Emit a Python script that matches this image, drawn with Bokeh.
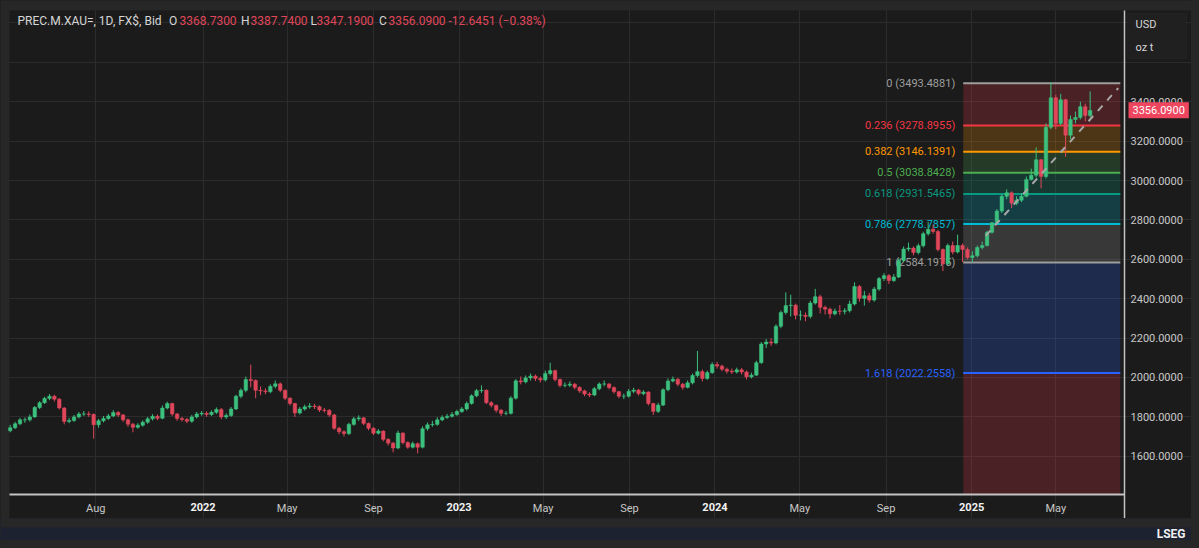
import pandas as pd
from bokeh.plotting import figure
from bokeh.models import (Range1d, FixedTicker, NumeralTickFormatter, Label,
                          LabelSet, ColumnDataSource, BoxAnnotation)
from bokeh.layouts import column
from bokeh.embed import file_html
from bokeh.resources import INLINE
from bokeh.core.properties import value

FONT = "Roboto"
BG = "#1b1b1b"
FRAME = "#272727"
GRID = "#2c2c2c"
UP = "#3cc07e"
DOWN = "#e0475b"

# ---------------- data (weekly sampling) ----------------
first_date = "2021-04-01"
first_open = 1730
closes = [
    1745, 1765, 1785, 1785, 1800, 1848, 1872, 1894, 1905, 1890,
    1845, 1777, 1782, 1800, 1815, 1815, 1812, 1760, 1780, 1792,
    1805, 1822, 1810, 1785, 1763, 1747, 1758, 1773, 1790, 1803,
    1793, 1845, 1868, 1815, 1792, 1787, 1778, 1800, 1815, 1818,
    1812, 1823, 1838, 1800, 1807, 1840, 1905, 1935, 1990, 1985,
    1935, 1932, 1928, 1955, 1968, 1935, 1895, 1868, 1820, 1840,
    1851, 1855, 1852, 1835, 1833, 1810, 1742, 1725, 1715, 1762,
    1790, 1795, 1767, 1742, 1717, 1728, 1686, 1667, 1642, 1718,
    1670, 1646, 1664, 1646, 1740, 1760, 1762, 1785, 1797, 1803,
    1812, 1827, 1840, 1868, 1907, 1933, 1935, 1872, 1859, 1834,
    1818, 1818, 1895, 1983, 1978, 1998, 2007, 1995, 1988, 2020,
    2035, 1990, 1960, 1961, 1966, 1950, 1932, 1916, 1911, 1943,
    1967, 1967, 1949, 1928, 1905, 1905, 1930, 1936, 1918, 1926,
    1868, 1828, 1860, 1938, 1982, 1991, 1966, 1950, 1973, 2010,
    2030, 1995, 2025, 2066, 2058, 2042, 2032, 2028, 2039, 2028,
    2003, 2012, 2075, 2170, 2180, 2175, 2260, 2330, 2365, 2367,
    2316, 2316, 2310, 2378, 2410, 2356, 2347, 2323, 2337, 2336,
    2339, 2373, 2462, 2402, 2415, 2393, 2449, 2502, 2517, 2492,
    2510, 2594, 2652, 2657, 2634, 2669, 2730, 2753, 2741, 2650,
    2577, 2670, 2637, 2670, 2650, 2609, 2618, 2660, 2670, 2737,
    2785, 2845, 2920, 2938, 2885, 2900, 2920, 3005, 3027, 3105,
    3020, 3270, 3420, 3290, 3410, 3230, 3310, 3320, 3375, 3330, 3356,
]
highs = [
    1760, 1775, 1795, 1797, 1812, 1855, 1880, 1902, 1916, 1912,
    1896, 1850, 1795, 1810, 1825, 1830, 1828, 1818, 1790, 1805,
    1815, 1834, 1830, 1815, 1792, 1770, 1768, 1782, 1800, 1814,
    1812, 1858, 1877, 1872, 1820, 1800, 1795, 1810, 1825, 1830,
    1828, 1833, 1848, 1845, 1818, 1850, 1912, 1945, 2005, 2065,
    1990, 1955, 1945, 1965, 1985, 1975, 1940, 1900, 1872, 1850,
    1862, 1870, 1866, 1858, 1845, 1840, 1815, 1750, 1732, 1770,
    1800, 1808, 1800, 1772, 1748, 1738, 1732, 1692, 1672, 1730,
    1722, 1676, 1675, 1670, 1752, 1772, 1780, 1798, 1808, 1815,
    1825, 1836, 1850, 1878, 1915, 1942, 1960, 1940, 1880, 1862,
    1840, 1830, 1905, 1992, 2005, 2010, 2020, 2015, 2005, 2035,
    2075, 2040, 1995, 1975, 1980, 1972, 1955, 1938, 1925, 1952,
    1975, 1985, 1972, 1955, 1932, 1918, 1942, 1948, 1942, 1935,
    1930, 1872, 1872, 1945, 1995, 2005, 1998, 1972, 1985, 2020,
    2135, 2040, 2035, 2078, 2080, 2065, 2050, 2045, 2050, 2048,
    2035, 2025, 2085, 2180, 2195, 2200, 2270, 2340, 2432, 2420,
    2375, 2340, 2330, 2390, 2450, 2420, 2365, 2355, 2350, 2368,
    2352, 2390, 2483, 2470, 2440, 2430, 2460, 2510, 2530, 2525,
    2525, 2605, 2665, 2685, 2665, 2680, 2740, 2790, 2775, 2750,
    2655, 2680, 2690, 2725, 2680, 2660, 2640, 2670, 2690, 2745,
    2790, 2855, 2930, 2955, 2945, 2920, 2935, 3020, 3060, 3168,
    3110, 3290, 3500, 3435, 3440, 3415, 3330, 3350, 3400, 3390, 3452,
]
lows = [
    1722, 1738, 1758, 1770, 1776, 1795, 1840, 1866, 1885, 1878,
    1838, 1762, 1768, 1775, 1792, 1805, 1800, 1690, 1745, 1772,
    1785, 1798, 1800, 1775, 1750, 1722, 1740, 1750, 1765, 1782,
    1783, 1788, 1838, 1805, 1780, 1776, 1768, 1770, 1792, 1806,
    1800, 1805, 1815, 1788, 1790, 1800, 1835, 1895, 1925, 1950,
    1895, 1910, 1915, 1920, 1945, 1925, 1885, 1858, 1800, 1812,
    1832, 1842, 1840, 1825, 1822, 1800, 1735, 1712, 1700, 1708,
    1755, 1780, 1758, 1732, 1708, 1710, 1676, 1655, 1620, 1636,
    1660, 1638, 1640, 1615, 1640, 1730, 1750, 1755, 1778, 1790,
    1796, 1805, 1820, 1832, 1862, 1900, 1922, 1865, 1848, 1822,
    1805, 1808, 1812, 1888, 1965, 1970, 1985, 1982, 1975, 1980,
    2010, 1980, 1950, 1950, 1952, 1940, 1922, 1905, 1900, 1905,
    1935, 1955, 1940, 1918, 1895, 1890, 1898, 1920, 1908, 1910,
    1858, 1810, 1820, 1855, 1930, 1975, 1955, 1938, 1945, 1965,
    2000, 1980, 1988, 2018, 2045, 2032, 2020, 2018, 2020, 2015,
    1990, 1995, 2008, 2070, 2150, 2160, 2168, 2250, 2320, 2310,
    2295, 2290, 2285, 2300, 2370, 2325, 2320, 2300, 2315, 2318,
    2320, 2330, 2365, 2385, 2365, 2380, 2385, 2440, 2490, 2475,
    2485, 2505, 2585, 2640, 2620, 2625, 2660, 2720, 2730, 2640,
    2540, 2570, 2625, 2630, 2585, 2600, 2584, 2610, 2650, 2665,
    2730, 2775, 2835, 2905, 2860, 2875, 2890, 2915, 3000, 3015,
    2960, 3010, 3260, 3260, 3280, 3120, 3210, 3290, 3310, 3300, 3320,
]

fib_ratios = ["0", "0.236", "0.382", "0.5", "0.618", "0.786", "1", "1.618", "2.618"]
fib_values = [3493.4881, 3278.8955, 3146.1391, 3038.8428, 2931.5465,
              2778.7857, 2584.1975, 2022.2558, 1112.9650]
fib_colors = ["#9e9e9e", "#f23645", "#ff9800", "#4caf50", "#089981",
              "#00bcd4", "#9e9e9e", "#2962ff", "#f23645"]
fib_start = "2024-12-20"
fib_end = "2025-08-01"

trend_dates = ["2025-01-21", "2025-07-29"]
trend_values = [2719, 3469]

tick_dates = ["2021-08-01", "2022-01-01", "2022-05-01", "2022-09-01",
              "2023-01-01", "2023-05-01", "2023-09-01", "2024-01-01",
              "2024-05-01", "2024-09-01", "2025-01-01", "2025-05-01"]
tick_labels = ["Aug", "2022", "May", "Sep", "2023", "May", "Sep", "2024",
               "May", "Sep", "2025", "May"]
price_ticks = [1600, 1800, 2000, 2200, 2400, 2600, 2800, 3000, 3200, 3400]
grid_prices = [1600, 1800, 2000, 2200, 2400, 2600, 2800, 3000, 3200, 3400, 3600, 3800]

last_price = 3356.09
header_texts = ["PREC.M.XAU=, 1D, FX$, Bid", "O", "3368.7300", "H", "3387.7400",
                "L", "3347.1900", "C", "3356.0900", "-12.6451 (\u22120.38%)"]
header_is_value = [False, False, True, False, True, False, True, False, True, True]

# visible window of the chart
view_x = ("2021-03-18 04:00", "2025-11-10 12:00")
view_y = (1284.2, 3913.8)
plot_x = ("2021-03-31", "2025-08-07")   # price-pane horizontal extent
plot_y = (1406, 3863)                    # price-pane vertical extent


def ms(d):
    return pd.Timestamp(d).value / 1e6


# ---------------- candles ----------------
dates = pd.date_range(first_date, periods=len(closes), freq="7D")
opens = [first_open] + closes[:-1]
src = ColumnDataSource(dict(
    date=dates, open=opens, close=closes, high=highs, low=lows,
    top=[max(o, c) for o, c in zip(opens, closes)],
    bottom=[min(o, c) for o, c in zip(opens, closes)],
    color=[UP if c >= o else DOWN for o, c in zip(opens, closes)],
))

W, H = 1191, 518
p = figure(width=W, height=H, x_axis_type="datetime",
           x_range=Range1d(ms(view_x[0]), ms(view_x[1])),
           y_range=Range1d(*view_y), y_axis_location="right",
           output_backend="svg", toolbar_location=None, min_border=0)
p.background_fill_color = BG
p.border_fill_color = BG
p.outline_line_color = None

# outer frame strips (left and top)
p.add_layout(BoxAnnotation(left=0, right=9, left_units="screen", right_units="screen",
                           fill_color=FRAME, fill_alpha=1, line_color=None, level="underlay"))
p.add_layout(BoxAnnotation(bottom=H - 10, bottom_units="screen",
                           fill_color=FRAME, fill_alpha=1, line_color=None, level="underlay"))

# grids
tick_ms = [ms(d) for d in tick_dates]
p.xgrid.ticker = FixedTicker(ticks=tick_ms)
p.xgrid.bounds = plot_y
p.ygrid.ticker = FixedTicker(ticks=grid_prices)
p.ygrid.bounds = (ms(plot_x[0]), ms(plot_x[1]))
p.grid.grid_line_color = GRID
p.grid.grid_line_width = 1

# fib bands, lines and labels
fsrc = ColumnDataSource(dict(top=fib_values[:-1], bottom=[max(v, plot_y[0]) for v in fib_values[1:]],
                             color=fib_colors[1:]))
p.quad(left=ms(fib_start), right=ms(fib_end), top="top", bottom="bottom",
       fill_color="color", fill_alpha=0.22, line_color=None, source=fsrc)
p.segment(x0=ms(fib_start), x1=ms(fib_end), y0=fib_values, y1=fib_values,
          line_color=fib_colors, line_width=2)
n_lab = 8
fib_texts = [f"{r} ({v:.4f})" for r, v in zip(fib_ratios[:n_lab], fib_values[:n_lab])]
p.text(x=[ms(fib_start)] * n_lab, y=fib_values[:n_lab], text=fib_texts,
       x_offset=-8, text_align="right", text_baseline="middle",
       text_color=fib_colors[:n_lab], text_font_size="11px",
       text_font=value(FONT))

# candles
p.segment(x0="date", x1="date", y0="low", y1="high", line_color="color",
          line_width=1, source=src)
p.vbar(x="date", width=5 * 86400000, top="top", bottom="bottom",
       fill_color="color", line_color="color", line_width=0.5, source=src)

# dashed trend line
p.line(x=[ms(d) for d in trend_dates], y=trend_values, line_color="#a8a8a8",
       line_width=2, line_dash="7 7")

# axes (placed inside the canvas at the pane edges)
p.xaxis.fixed_location = plot_y[0]
p.xaxis.bounds = (ms(plot_x[0]), ms(plot_x[1]))
p.xaxis.ticker = FixedTicker(ticks=tick_ms)
p.xaxis.major_label_overrides = {t: (lab if not lab.isdigit() else "")
                                 for t, lab in zip(tick_ms, tick_labels)}
p.yaxis.fixed_location = ms(plot_x[1])
p.yaxis.bounds = (view_y[0], plot_y[1])
p.yaxis.ticker = FixedTicker(ticks=price_ticks)
p.yaxis.formatter = NumeralTickFormatter(format="0.0000")
for ax in (p.xaxis, p.yaxis):
    ax.axis_line_color = "#c4c4c4"
    ax.major_tick_line_color = None
    ax.minor_tick_line_color = None
    ax.major_tick_out = 0
    ax.major_tick_in = 0
    ax.major_label_text_font = FONT
    ax.major_label_text_font_size = "11px"
    ax.major_label_text_color = "#c8c8c8"
p.xaxis.axis_line_width = 2
p.xaxis.major_label_standoff = 7
p.yaxis.major_label_standoff = 6
p.yaxis.axis_line_width = 1.5

# bold year labels
yr = [(t, lab) for t, lab in zip(tick_ms, tick_labels) if lab.isdigit()]
ysrc = ColumnDataSource(dict(x=[t for t, _ in yr], text=[lab for _, lab in yr]))
p.add_layout(LabelSet(x="x", y=11.5, y_units="screen", text="text", source=ysrc,
                      text_align="center", text_baseline="middle",
                      text_font=value(FONT), text_font_size="11px",
                      text_font_style="bold", text_color="#f2f2f2"))

# header
hx = [17, 168.5, 179, 240.5, 250, 310, 316, 378.5, 388, 448]
for t, isv, x in zip(header_texts, header_is_value, hx):
    p.add_layout(Label(x=x, y=H - 20, x_units="screen", y_units="screen", text=t,
                       text_baseline="middle", text_font=FONT,
                       text_font_size="12px",
                       text_color="#e0475b" if isv else "#d6d6d6"))

# last price tag
p.add_layout(Label(x=1128, y=last_price, x_units="screen", y_units="data",
                   text=f"{last_price:.4f}", text_baseline="middle",
                   text_font=FONT, text_font_size="11px",
                   text_color="white", background_fill_color="#ef4660",
                   padding=4))

# unit box
p.add_layout(BoxAnnotation(left=1127, right=1186, top=H - 13, bottom=H - 58,
                           left_units="screen", right_units="screen",
                           top_units="screen", bottom_units="screen",
                           fill_color="#202020", fill_alpha=1,
                           line_color="#303030", line_width=1))
p.add_layout(Label(x=1135, y=H - 24, x_units="screen", y_units="screen", text="USD",
                   text_baseline="middle", text_font=FONT,
                   text_font_size="11px", text_color="#d6d6d6"))
p.add_layout(Label(x=1135, y=H - 47, x_units="screen", y_units="screen", text="oz t",
                   text_baseline="middle", text_font=FONT,
                   text_font_size="11px", text_color="#d6d6d6"))

# bottom brand band
H2 = 22
p2 = figure(width=W, height=H2, x_range=Range1d(0, 1), y_range=Range1d(0, 1),
            output_backend="svg", toolbar_location=None, min_border=0)
p2.xaxis.visible = False
p2.yaxis.visible = False
p2.grid.visible = False
p2.outline_line_color = None
p2.background_fill_color = "#1d2230"
p2.border_fill_color = "#1d2230"
p2.add_layout(BoxAnnotation(bottom=H2 - 9, bottom_units="screen",
                            fill_color=FRAME, fill_alpha=1, line_color=None))
p2.add_layout(Label(x=W - 6, y=7, x_units="screen", y_units="screen", text="LSEG",
                    text_align="right", text_baseline="middle",
                    text_font=FONT, text_font_size="12px",
                    text_font_style="bold", text_color="#f0f0f0"))

layout = column(p, p2)
html = file_html(layout, INLINE, title="PREC.M.XAU=")
html = html.replace("</head>", "<style>body{background:%s;}</style></head>" % FRAME, 1)
open("out.html", "w").write(html)
